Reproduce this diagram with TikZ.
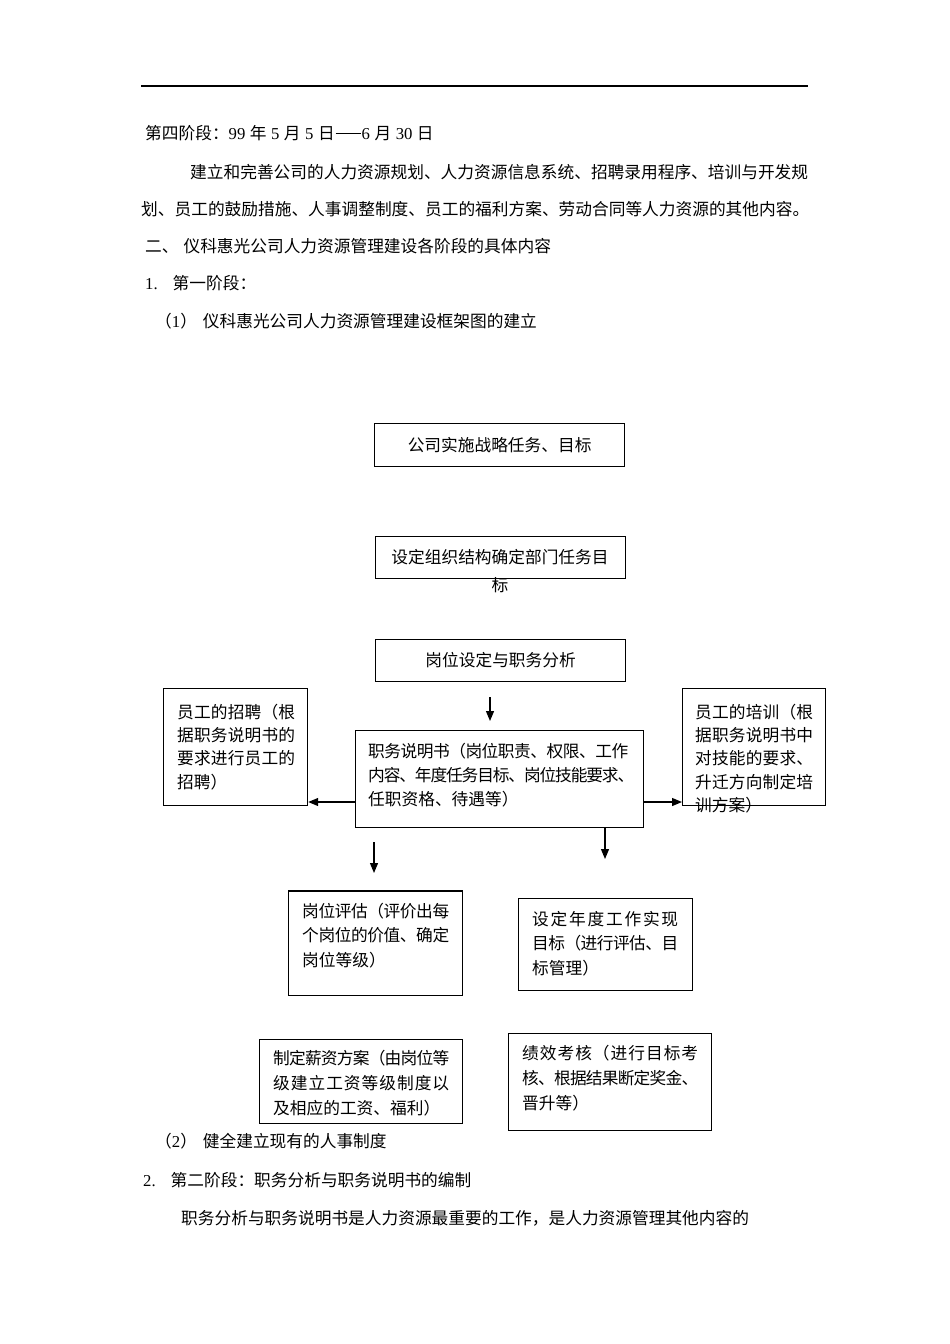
\documentclass[tikz,border=0pt]{standalone}
\usepackage{fontspec}
\setmainfont{Noto Sans CJK SC}
\newfontfamily\latinfont{Liberation Serif}
\usetikzlibrary{arrows.meta}
\newcommand\La[1]{{\latinfont #1}}
\newcommand\gp{\hspace{4.5pt}}
\newcommand\longdash{\kern1pt\raisebox{5.8pt}{\rule{25pt}{0.9pt}}\kern1pt}
\ExplSyntaxOn
\NewDocumentCommand \spreadto { m m }
  {
    \seq_clear:N \l_tmpa_seq
    \tl_map_inline:nn {#2} { \seq_put_right:Nn \l_tmpa_seq {##1} }
    \hbox_to_wd:nn {#1} { \seq_use:Nn \l_tmpa_seq { \skip_horizontal:n { 0pt plus 1fil minus 1fil } } }
  }
\ExplSyntaxOff
\newcommand\blk[2]{\vtop{\baselineskip=#1\lineskiplimit=-100pt\lineskip=0pt #2}}
\tikzset{
  txt/.style={anchor=base west, inner sep=0pt, font=\fontsize{16.7}{20}\selectfont},
  lbl/.style={anchor=base west, inner sep=0pt, font=\fontsize{16.7}{20}\selectfont},
  boxn/.style={draw, line width=1.2pt, inner sep=0pt, anchor=north west, font=\fontsize{16.7}{20}\selectfont},
  arr/.style={line width=1.2pt, -{Triangle[length=10pt,width=8pt]}},
}
\begin{document}
\begin{tikzpicture}[x=1pt,y=-1pt]
\useasboundingbox (0,0) rectangle (950,1344);
% top rule
\draw[line width=1.8pt] (141,86) -- (808,86);
% text above
\node[txt] (t1) at (145,139.3) {第四阶段：\La{99}\gp 年\gp\La{5}\gp 月\gp\La{5}\gp 日\longdash\La{6}\gp 月\gp\La{30}\gp 日};
\node[txt] (t2) at (190,178.3) {建立和完善公司的人力资源规划、人力资源信息系统、招聘录用程序、培训与开发规};
\node[txt] (t3) at (141,215.3) {划、员工的鼓励措施、人事调整制度、员工的福利方案、劳动合同等人力资源的其他内容。};
\node[txt] (t4) at (145,252.3) {二、\hspace{5pt}仪科惠光公司人力资源管理建设各阶段的具体内容};
\node[txt] (t5) at (145,289.3) {\La{1.}\hspace{15pt}第一阶段：};
\node[txt] (t6) at (155,327.3) {（\La{1}）\hspace{6pt}仪科惠光公司人力资源管理建设框架图的建立};
% boxes
\node[boxn, minimum width=250pt, minimum height=43pt] (b1) at (374,423) {公司实施战略任务、目标};
\node[boxn, minimum width=250pt, minimum height=42pt] (b2) at (375,536) {};
\node[lbl, anchor=base] (l2) at (500,563.3) {\blk{28pt}{\hbox to 0pt{\hss 设定组织结构确定部门任务目\hss}\hbox to 0pt{\hss 标\hss}}};
\node[boxn, minimum width=250pt, minimum height=42pt] (b3) at (375,639) {岗位设定与职务分析};
\node[boxn, minimum width=288pt, minimum height=97pt] (b4) at (355,730) {};
\node[lbl] (l4) at (368,757.3) {\blk{24pt}{%
  \hbox{\spreadto{260pt}{职务说明书（岗位职责、权限、工作}}%
  \hbox{\spreadto{266pt}{内容、年度任务目标、岗位技能要求、}}%
  \hbox{任职资格、待遇等）}}};
\node[boxn, minimum width=144pt, minimum height=117pt] (b5) at (163,688) {};
\node[lbl] (l5) at (177,718.3) {\blk{23.3pt}{%
  \hbox{\spreadto{118pt}{员工的招聘（根}}%
  \hbox{\spreadto{118pt}{据职务说明书的}}%
  \hbox{\spreadto{118pt}{要求进行员工的}}%
  \hbox{招聘）}}};
\node[boxn, minimum width=143pt, minimum height=117pt] (b6) at (682,688) {};
\node[lbl] (l6) at (695,718.3) {\blk{23.3pt}{%
  \hbox{\spreadto{118pt}{员工的培训（根}}%
  \hbox{\spreadto{118pt}{据职务说明书中}}%
  \hbox{\spreadto{118pt}{对技能的要求、}}%
  \hbox{\spreadto{118pt}{升迁方向制定培}}%
  \hbox{训方案）}}};
\node[boxn, minimum width=174pt, minimum height=104pt] (b7) at (288,891) {};
\draw[line width=2.6pt] (b7.north west) -- (b7.north east);
\node[lbl] (l7) at (302,917.3) {\blk{24.5pt}{%
  \hbox{\spreadto{147pt}{岗位评估（评价出每}}%
  \hbox{\spreadto{147pt}{个岗位的价值、确定}}%
  \hbox{岗位等级）}}};
\node[boxn, minimum width=174pt, minimum height=92pt] (b8) at (518,898) {};
\node[lbl] (l8) at (532,925.3) {\blk{24.5pt}{%
  \hbox{\spreadto{146pt}{设定年度工作实现}}%
  \hbox{\spreadto{146pt}{目标（进行评估、目}}%
  \hbox{标管理）}}};
\node[boxn, minimum width=203pt, minimum height=84pt] (b9) at (259,1039) {};
\node[lbl] (l9) at (273,1064.3) {\blk{25pt}{%
  \hbox{\spreadto{176pt}{制定薪资方案（由岗位等}}%
  \hbox{\spreadto{176pt}{级建立工资等级制度以}}%
  \hbox{及相应的工资、福利）}}};
\node[boxn, minimum width=203pt, minimum height=97pt] (b10) at (508,1033) {};
\node[lbl] (l10) at (522,1059.3) {\blk{25pt}{%
  \hbox{\spreadto{176pt}{绩效考核（进行目标考}}%
  \hbox{\spreadto{176pt}{核、根据结果断定奖金、}}%
  \hbox{晋升等）}}};
% arrows
\coordinate (a1s) at (490,697);
\coordinate (a1e) at (490,721);
\draw[arr] (a1s) -- (a1e);
\draw[arr] (b4.west |- 0,802) -- (b5.east |- 0,802);
\draw[arr] (b4.east |- 0,802) -- (b6.west |- 0,802);
\coordinate (a4e) at (605,859);
\draw[arr] (b4.south -| a4e) -- (a4e);
\coordinate (a5s) at (374,842);
\coordinate (a5e) at (374,873);
\draw[arr] (a5s) -- (a5e);
% text below
\node[txt] (t7) at (155,1147.3) {（\La{2}）\hspace{6pt}健全建立现有的人事制度};
\node[txt] (t8) at (143,1186.3) {\La{2.}\hspace{15pt}第二阶段：职务分析与职务说明书的编制};
\node[txt] (t9) at (181,1224.3) {职务分析与职务说明书是人力资源最重要的工作，是人力资源管理其他内容的};
\end{tikzpicture}
\end{document}
